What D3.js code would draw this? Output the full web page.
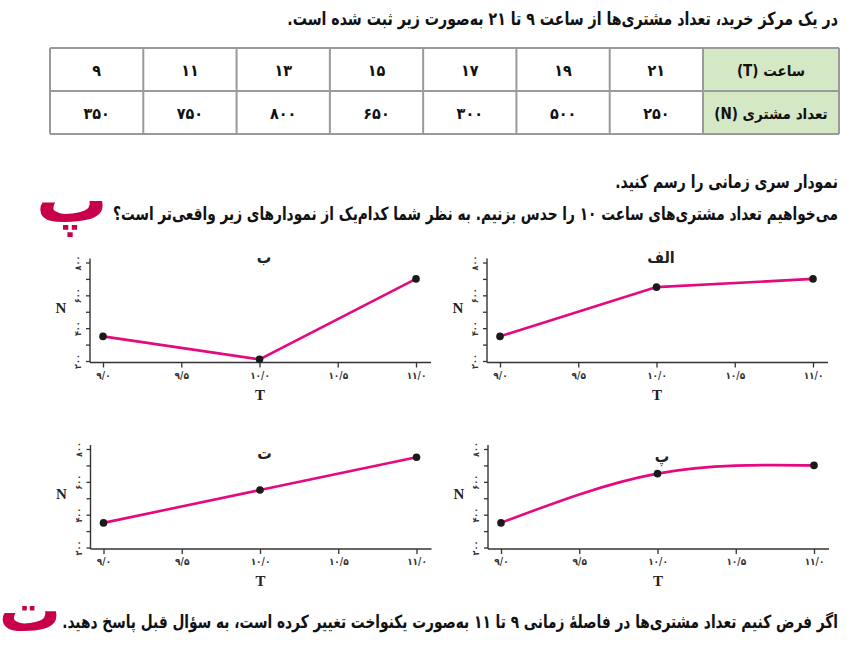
<!DOCTYPE html>
<html>
<head>
<meta charset="utf-8">
<script src="https://cdn.jsdelivr.net/npm/d3@7"></script>
<style>
  body { margin: 0; background: #fff; }
  svg { display: block; }
  .fa { font-family: "DejaVu Sans Condensed", "DejaVu Sans", sans-serif; font-weight: bold; }
</style>
</head>
<body>
<div id="chart"></div>
<script>
// table data
var hours = [9, 11, 13, 15, 17, 19, 21];
var counts = [350, 750, 800, 650, 300, 500, 250];
var rowLabels = ["ساعت (T)", "تعداد مشتری (N)"];

// chart data
var chartT = [9, 10, 11];
var seriesAlef = [350, 650, 700];
var seriesBe = [350, 210, 700];
var seriesPe = [350, 650, 700];
var seriesTe = [350, 550, 750];
var panelTitles = ["الف", "ب", "پ", "ت"];
var xTicks = [9, 9.5, 10, 10.5, 11];
var yTicks = [200, 300, 400, 500, 600, 700, 800];
var yLabelTicks = [200, 400, 600, 800];

var textLines = [
  "در یک مرکز خرید، تعداد مشتری‌ها از ساعت ۹ تا ۲۱ به‌صورت زیر ثبت شده است.",
  "نمودار سری زمانی را رسم کنید.",
  "می‌خواهیم تعداد مشتری‌های ساعت ۱۰ را حدس بزنیم. به نظر شما کدام‌یک از نمودارهای زیر واقعی‌تر است؟",
  "اگر فرض کنیم تعداد مشتری‌ها در فاصلهٔ زمانی ۹ تا ۱۱ به‌صورت یکنواخت تغییر کرده است، به سؤال قبل پاسخ دهید."
];

function fa(v) {
  return String(v).replace(/\./g, "/").replace(/[0-9]/g, function (c) {
    return "۰۱۲۳۴۵۶۷۸۹"[+c];
  });
}
var RLM = "\u200F";

var W = 858, H = 649;
var svg = d3.select("#chart").append("svg").attr("width", W).attr("height", H);

var pink = "#e5097f";
var red = "#c8004b";

// ---- paragraph lines (right aligned at x = 838, squeezed to the reference width) ----
var lineLayout = [
  { y: 25, left: 287, size: 18 },
  { y: 188, left: 615, size: 18 },
  { y: 220, left: 112, size: 18 },
  { y: 628, left: 62, size: 18 }
];
svg.selectAll("text.line")
  .data(textLines)
  .enter()
  .append("text")
  .attr("class", "line fa")
  .attr("x", 0)
  .attr("y", 0)
  .attr("font-size", (d, i) => lineLayout[i].size)
  .attr("fill", "#111")
  .attr("text-anchor", "end")
  .text(d => RLM + d + RLM)
  .attr("transform", function (d, i) {
    var natural = this.getComputedTextLength();
    var sx = Math.min(1, (838 - lineLayout[i].left) / natural);
    return "translate(838," + lineLayout[i].y + ") scale(" + sx + ",1)";
  });

// big red section letters
svg.append("text").attr("class", "fa")
  .attr("transform", "translate(72,222) scale(1.25,1)")
  .attr("font-size", 64).attr("fill", red)
  .attr("text-anchor", "middle")
  .text("پ");
svg.append("text").attr("class", "fa")
  .attr("transform", "translate(30,631) scale(1.15,1)")
  .attr("font-size", 60).attr("fill", red)
  .attr("text-anchor", "middle")
  .text("ت");

// ---- table ----
var tLeft = 50, tRight = 839, labelW = 136;
var colW = (tRight - labelW - tLeft) / hours.length;
var rowY = [48, 91, 134];
var table = svg.append("g");

table.append("rect")
  .attr("x", tRight - labelW).attr("y", rowY[0])
  .attr("width", labelW).attr("height", rowY[2] - rowY[0])
  .attr("fill", "#d4e8c6");

// grid lines
var vx = d3.range(hours.length + 1).map(i => tLeft + i * colW).concat([tRight]);
table.selectAll("line.v").data(vx).enter().append("line")
  .attr("x1", d => d).attr("x2", d => d)
  .attr("y1", rowY[0]).attr("y2", rowY[2])
  .attr("stroke", "#9a9a9a").attr("stroke-width", 2);
table.selectAll("line.h").data(rowY).enter().append("line")
  .attr("x1", tLeft).attr("x2", tRight)
  .attr("y1", d => d).attr("y2", d => d)
  .attr("stroke", "#9a9a9a").attr("stroke-width", 2);

table.selectAll("text.hour").data(hours).enter().append("text")
  .attr("class", "fa")
  .attr("x", (d, i) => tLeft + (i + 0.5) * colW)
  .attr("y", 76).attr("font-size", 16).attr("text-anchor", "middle")
  .attr("fill", "#111")
  .text(d => fa(d));
table.selectAll("text.count").data(counts).enter().append("text")
  .attr("class", "fa")
  .attr("x", (d, i) => tLeft + (i + 0.5) * colW)
  .attr("y", 119).attr("font-size", 16).attr("text-anchor", "middle")
  .attr("fill", "#111")
  .text(d => fa(d));
table.selectAll("text.rowlab").data(rowLabels).enter().append("text")
  .attr("class", "fa")
  .attr("x", tRight - labelW / 2)
  .attr("y", (d, i) => i === 0 ? 76 : 119)
  .attr("font-size", 15).attr("text-anchor", "middle")
  .attr("direction", "rtl")
  .attr("fill", "#111")
  .text(d => d);

// ---- four small plots ----
var panels = [
  { title: panelTitles[0], data: seriesAlef, ox: 487, bottom: 362.5, curve: d3.curveLinear, titleY: 263 },
  { title: panelTitles[1], data: seriesBe, ox: 90, bottom: 362.5, curve: d3.curveLinear, titleY: 263 },
  { title: panelTitles[2], data: seriesPe, ox: 488, bottom: 549, curve: d3.curveNatural, titleY: 462 },
  { title: panelTitles[3], data: seriesTe, ox: 90.5, bottom: 549, curve: d3.curveLinear, titleY: 459 }
];

panels.forEach(function (p) {
  var g = svg.append("g").attr("transform", "translate(" + p.ox + "," + p.bottom + ")");

  var x = d3.scaleLinear().domain([9, 11]).range([13, 326]);
  var y = d3.scaleLinear().domain([200, 800]).range([-1.5, -100]);

  // axis lines
  g.append("line").attr("x1", 0).attr("x2", 341).attr("y1", 0).attr("y2", 0)
    .attr("stroke", "#333").attr("stroke-width", 1.4);
  g.append("line").attr("x1", 0).attr("x2", 0).attr("y1", 0).attr("y2", -104)
    .attr("stroke", "#333").attr("stroke-width", 1.4);

  var xAxis = d3.axisBottom(x).tickValues(xTicks).tickSize(5).tickSizeOuter(0)
    .tickFormat(d => fa(d.toFixed(1)));
  var gx = g.append("g").call(xAxis);
  gx.select(".domain").remove();
  gx.selectAll("line").attr("stroke", "#333").attr("stroke-width", 1.3);
  gx.selectAll("text")
    .attr("y", 9).attr("dy", "0.71em")
    .attr("class", "fa").attr("font-size", 10).attr("fill", "#333");

  var yAxis = d3.axisLeft(y).tickValues(yTicks).tickSize(4).tickSizeOuter(0)
    .tickFormat(d => yLabelTicks.indexOf(d) >= 0 ? fa(d) : "");
  var gy = g.append("g").call(yAxis);
  gy.select(".domain").remove();
  gy.selectAll("line").attr("stroke", "#333").attr("stroke-width", 1.3);
  gy.selectAll("text")
    .attr("x", 0).attr("y", -9).attr("dy", 0)
    .attr("transform", "rotate(-90)")
    .attr("text-anchor", "middle")
    .attr("class", "fa").attr("font-size", 9).attr("fill", "#333");

  var line = d3.line()
    .x((d, i) => x(chartT[i]))
    .y(d => y(d))
    .curve(p.curve);
  g.append("path").datum(p.data)
    .attr("d", line)
    .attr("fill", "none").attr("stroke", pink).attr("stroke-width", 2.6);

  g.selectAll("circle").data(p.data).enter().append("circle")
    .attr("cx", (d, i) => x(chartT[i]))
    .attr("cy", d => y(d))
    .attr("r", 3.8).attr("fill", "#1a1a1a");

  // labels
  g.append("text").text("N")
    .attr("x", -29).attr("y", -50)
    .attr("font-family", "Liberation Serif").attr("font-weight", "bold")
    .attr("font-size", 15).attr("text-anchor", "middle").attr("fill", "#222");
  g.append("text").text("T")
    .attr("x", 170).attr("y", 37)
    .attr("font-family", "Liberation Serif").attr("font-weight", "bold")
    .attr("font-size", 15).attr("text-anchor", "middle").attr("fill", "#222");
  g.append("text").text(p.title)
    .attr("class", "fa")
    .attr("x", 174).attr("y", p.titleY - p.bottom)
    .attr("font-size", 16).attr("text-anchor", "middle").attr("fill", "#222");
});
</script>
</body>
</html>
